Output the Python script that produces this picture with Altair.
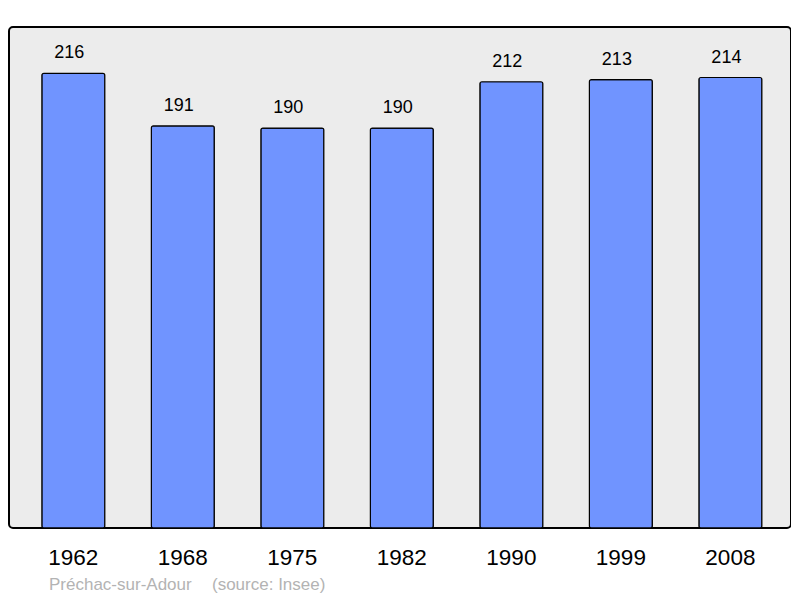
import altair as alt
import pandas as pd

# Population de Préchac-sur-Adour (source: Insee)
annees = ["1962", "1968", "1975", "1982", "1990", "1999", "2008"]
population = [216, 191, 190, 190, 212, 213, 214]

df = pd.DataFrame({"annee": annees, "pop": population})

x = alt.X("annee:N", sort=annees, title=None,
          scale=alt.Scale(paddingInner=0.425, paddingOuter=0.283, align=0.53),
          axis=alt.Axis(labelAngle=0, labelFontSize=22.5, labelColor="#000000",
                        labelPadding=18, ticks=False, domain=False,
                        labelFont="Liberation Sans"))
y = alt.Y("pop:Q", title=None, scale=alt.Scale(domain=[0, 238], nice=False, zero=True),
          axis=None)

barres = alt.Chart(df).mark_bar(
    color="#7094ff", stroke="#000000", strokeWidth=1.2, cornerRadius=2
).encode(x=x, y=y)

etiquettes = alt.Chart(df).mark_text(
    baseline="alphabetic", dy=-15, dx=-4, fontSize=18, font="Liberation Sans", color="#000000"
).encode(x=x, y=y, text="pop:Q")

source = pd.DataFrame({"t": ["Préchac-sur-Adour", "(source: Insee)"], "px": [40, 203]})
pied = alt.Chart(source).mark_text(
    align="left", baseline="alphabetic", fontSize=17, font="Liberation Sans", color="#b3b3b3"
).encode(x=alt.X("px:Q", scale=None), y=alt.value(563), text="t:N")

chart = alt.layer(barres, etiquettes, pied).properties(
    width=782, height=501,
    padding={"left": 1, "top": 19, "right": 0, "bottom": 70},
    autosize=alt.AutoSizeParams(type="none"),
).configure_view(
    fill="#ececec", stroke="#000000", strokeWidth=2, cornerRadius=4
)

chart.save("out.html", embed_options={"renderer": "svg", "actions": False})
